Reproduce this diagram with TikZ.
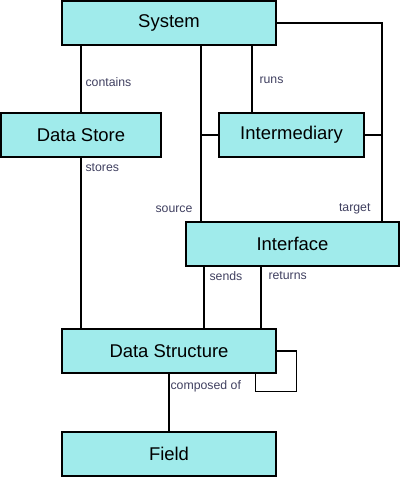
\documentclass[tikz,border=0pt]{standalone}
\usepackage{fontspec}
\setmainfont{Liberation Sans}
\usetikzlibrary{calc}

\definecolor{boxfill}{HTML}{A0EBEB}
\definecolor{labeltext}{HTML}{404060}

\begin{document}
\begin{tikzpicture}[x=0.02cm,y=-0.02cm,line width=0.6pt,
    entity/.style={draw=black,fill=boxfill,rectangle,minimum height=0.88cm,inner sep=0pt,font=\fontsize{10.5}{12}\selectfont},
    rel/.style={text=labeltext,inner sep=0pt,font=\fontsize{7}{8}\selectfont}]
		
		\useasboundingbox (0,0) rectangle (400,477);
		
		\node [entity, minimum width=4.28cm] (System) at (169,23) {System};
		\node [entity, minimum width=3.2cm] (DataStore) at (81,135) {Data Store};
		\node [entity, minimum width=2.9cm] (Intermediary) at (291.5,135) {Intermediary};
		\node [entity, minimum width=4.26cm] (Interface) at (292.5,244) {Interface};
		\node [entity, minimum width=4.28cm] (DataStruct) at (169,351) {Data Structure};
		\node [entity, minimum width=4.28cm] (Field) at (169,454) {Field};
		
		\coordinate (src) at (201,0);
		\coordinate (rn) at (252,0);
		\coordinate (tg) at (382,0);
		\coordinate (snd) at (204,0);
		\coordinate (ret) at (261,0);
		
		\draw (DataStore.north |- System.south) -- (DataStore.north);
		\draw (System.south -| src) -- (Interface.north -| src);
		\draw (Intermediary.west) -- (Intermediary.west -| src);
		\draw (System.south -| rn) -- (Intermediary.north -| rn);
		\draw (System.east) -| (Interface.north -| tg);
		\draw (Intermediary.east) -- (Intermediary.east -| tg);
		\draw (DataStore.south) -- (DataStore.south |- DataStruct.north);
		\draw (Interface.south -| snd) -- (DataStruct.north -| snd);
		\draw (Interface.south -| ret) -- (DataStruct.north -| ret);
		\draw (DataStruct.east) -| ($(DataStruct.south east)+(20,18)$) -| ($(DataStruct.south east)+(-21,0)$);
		\draw (DataStruct.south) -- (Field.north);
		
		\node [rel, anchor=west] (lcontains) at (85,82) {contains};
		\node [rel, anchor=west] (lruns) at (259,80) {runs};
		\node [rel, anchor=west] (lstores) at (85,168) {stores};
		\node [rel, anchor=east] (lsource) at (193,209) {source};
		\node [rel, anchor=east] (ltarget) at (371,209) {target};
		\node [rel, anchor=west] (lsends) at (209,276) {sends};
		\node [rel, anchor=west] (lreturns) at (268,276) {returns};
		\node [rel, anchor=west] (lcomposed) at (170,386) {composed of};
\end{tikzpicture}
\end{document}
